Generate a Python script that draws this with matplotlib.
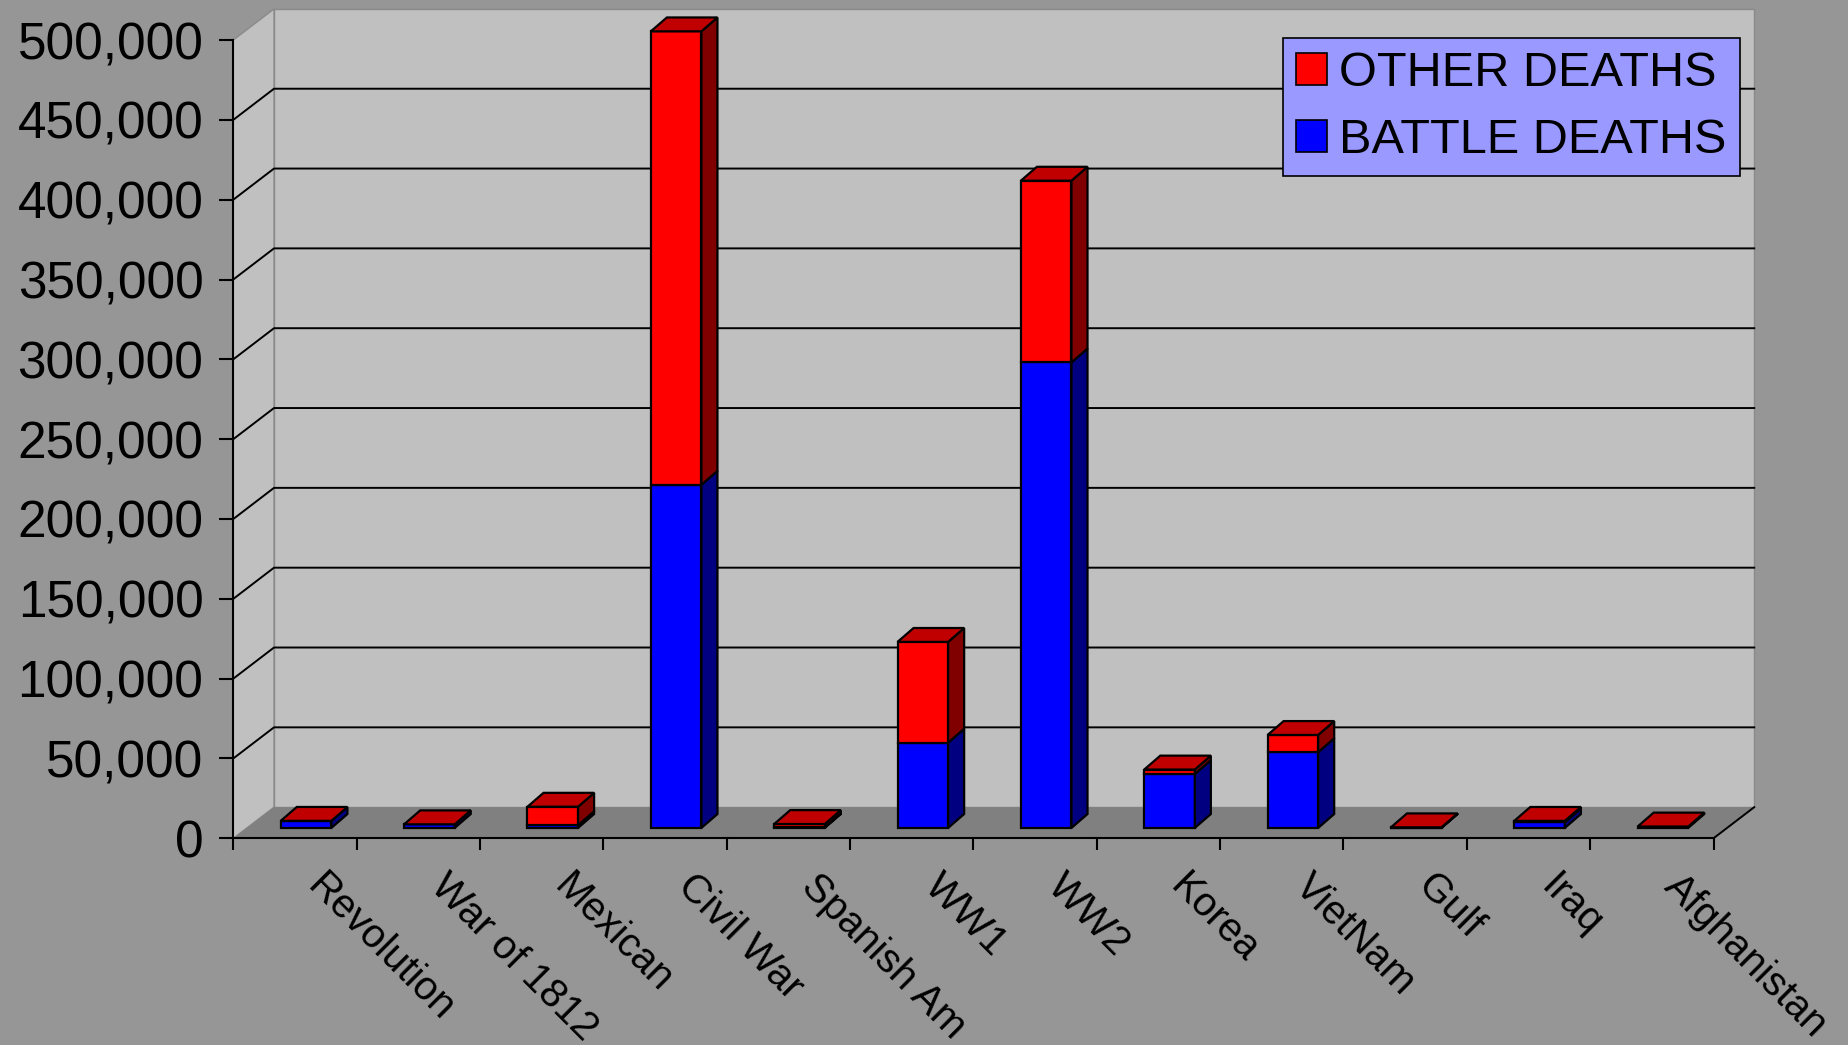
import numpy as np
import matplotlib
matplotlib.use("Agg")
import matplotlib.pyplot as plt
import matplotlib.transforms as mtransforms
from matplotlib.patches import Polygon, Patch
from matplotlib.ticker import FuncFormatter, NullFormatter

# data (US war deaths)
wars = ["Revolution", "War of 1812", "Mexican", "Civil War", "Spanish Am", "WW1",
        "WW2", "Korea", "VietNam", "Gulf", "Iraq", "Afghanistan"]
battle = [4435, 2260, 1733, 214938, 385, 53402, 291557, 33739, 47434, 147, 3481, 630]
other = [0, 0, 11550, 283994, 2061, 63114, 113842, 2835, 10786, 235, 934, 240]
yticks = list(range(0, 500001, 50000))

plt.rcParams['font.family'] = ['Liberation Sans', 'DejaVu Sans']

# fake 3d look (excel style), offsets in data units
DX, DY = 0.33, 19500      # depth of the floor / walls
FX, FY = 0.09, 6500       # where the bar front sits inside the depth
SDX, SDY = 0.13, 8700     # bar depth
W = 0.41

fig = plt.figure(figsize=(18.49, 10.45), dpi=100, facecolor='#969696')
ax = fig.add_axes([0.12618, 0.1978, 0.80054, 0.7639])
ax.set_facecolor('none')
ax.set_xlim(-0.5, 11.5)
ax.set_ylim(0, 500000)
x0, x1 = -0.5, 11.5
top = yticks[-1]

# walls + floor
back = Polygon([(x0 + DX, DY), (x1 + DX, DY), (x1 + DX, top + DY), (x0 + DX, top + DY)],
               fc='#c0c0c0', ec='#8a8a8a', lw=1, clip_on=False, zorder=0.5)
left = Polygon([(x0, 0), (x0 + DX, DY), (x0 + DX, top + DY), (x0, top)],
               fc='#c0c0c0', ec='#8a8a8a', lw=1, clip_on=False, zorder=0.5)
floor = Polygon([(x0, 0), (x1, 0), (x1 + DX, DY), (x0 + DX, DY)],
                fc='#808080', ec='none', clip_on=False, zorder=0.55)
for p in (back, left, floor):
    ax.add_patch(p)
ax.plot([x1, x1 + DX], [0, DY], color='black', lw=1.4, clip_on=False, zorder=0.6)

# gridlines on the back wall with the little diagonal on the side wall
for v in yticks[1:-1]:
    ax.plot([x0, x0 + DX, x1 + DX], [v, v + DY, v + DY], color='black', lw=1.4,
            clip_on=False, zorder=0.6)

# bars
xs = np.arange(len(wars)) + FX
bat = np.array(battle)
oth = np.array(other)
b1 = ax.bar(xs, bat, W, bottom=FY, color='#0000ff', edgecolor='black', lw=1.6,
            clip_on=False, zorder=3)
b2 = ax.bar(xs, oth, W, bottom=FY + bat, color='#ff0000', edgecolor='black', lw=1.6,
            clip_on=False, zorder=3)

def add_side(rect, col):
    x, y, w, h = rect.get_x(), rect.get_y(), rect.get_width(), rect.get_height()
    ax.add_patch(Polygon([(x + w, y), (x + w + SDX, y + SDY), (x + w + SDX, y + h + SDY), (x + w, y + h)],
                         fc=col, ec='black', lw=1.6, clip_on=False, zorder=3))

def add_top(rect, col):
    x, y, w, h = rect.get_x(), rect.get_y(), rect.get_width(), rect.get_height()
    t = y + h
    ax.add_patch(Polygon([(x, t), (x + w, t), (x + w + SDX, t + SDY), (x + SDX, t + SDY)],
                         fc=col, ec='black', lw=1.6, clip_on=False, zorder=3.1))

for r1, r2 in zip(b1.patches, b2.patches):
    add_side(r1, '#000080')
    add_side(r2, '#800000')
    add_top(r2, '#c00000')

# axes
for s in ('top', 'right'):
    ax.spines[s].set_visible(False)
for s in ('left', 'bottom'):
    ax.spines[s].set_linewidth(1.5)
    ax.spines[s].set_color('black')

ax.set_yticks(yticks)
ax.yaxis.set_major_formatter(FuncFormatter(lambda v, p: f"{v:,.0f}"))
ax.tick_params(axis='y', length=10, width=1.5, pad=11.5, labelsize=37, colors='black')

ax.set_xticks(np.arange(-0.5, len(wars), 1))
ax.xaxis.set_major_formatter(NullFormatter())
ax.set_xticks(np.arange(len(wars)), labels=wars, minor=True)
ax.tick_params(axis='x', which='major', length=8.6, width=1.5)
ax.tick_params(axis='x', which='minor', length=0, pad=20.7, labelsize=29, labelrotation=-45)
off = mtransforms.ScaledTranslation(0.32, 0, fig.dpi_scale_trans)
for lbl in ax.get_xticklabels(minor=True):
    lbl.set_ha('left')
    lbl.set_rotation_mode('anchor')
    lbl.set_transform(lbl.get_transform() + off)

handles = [Patch(fc='#ff0000', ec='black', lw=1.2, label='OTHER DEATHS'),
           Patch(fc='#0000ff', ec='black', lw=1.2, label='BATTLE DEATHS')]
leg = ax.legend(handles=handles, loc='upper right',
                bbox_to_anchor=(1740 / 1849, 1 - 37.7 / 1045), bbox_transform=fig.transFigure,
                fontsize=35, frameon=True, fancybox=False, facecolor='#9999ff', edgecolor='black',
                framealpha=1, handlelength=0.64, handleheight=0.64, handletextpad=0.26,
                borderpad=0.27, labelspacing=0.45, borderaxespad=0)
leg.get_frame().set_linewidth(1.2)
leg.set_zorder(5)

fig.savefig('out.png', dpi=100, facecolor=fig.get_facecolor())
